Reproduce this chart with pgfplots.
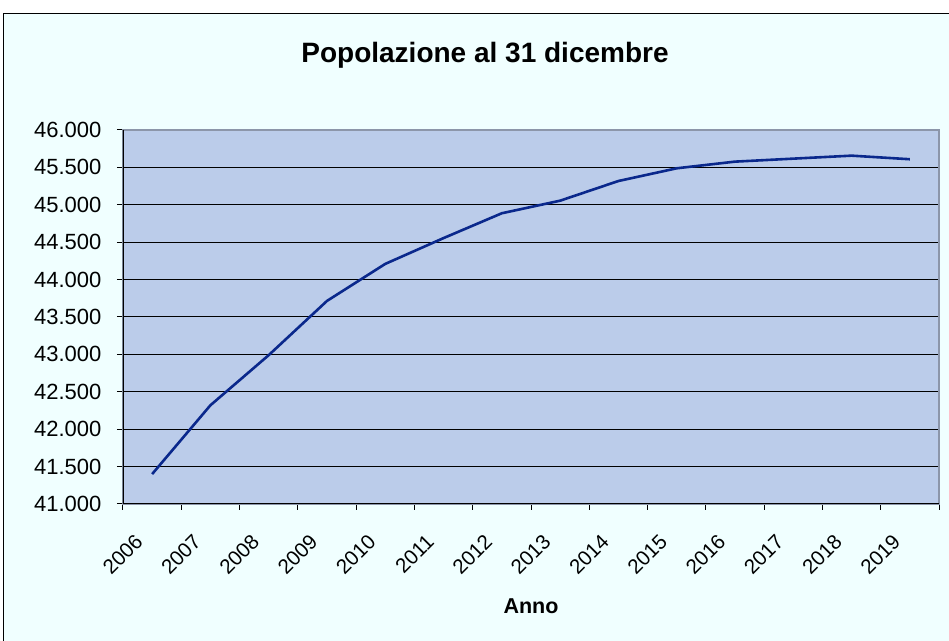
\documentclass[border=0pt]{standalone}
\usepackage{fontspec}
\setmainfont{Liberation Sans}
\usepackage{pgfplots}
\pgfplotsset{compat=1.18}

\definecolor{sfondo}{RGB}{240,255,255}
\definecolor{areaplot}{RGB}{187,204,234}
\definecolor{linea}{RGB}{10,40,140}
\definecolor{bordo}{RGB}{140,150,170}

\begin{document}
\begin{tikzpicture}
% 1 px of the reference = 0.5pt, origin at the lower left corner of the plot area
\useasboundingbox (-61.5pt,-68.5pt) rectangle (413pt,252pt);
\fill[white] (-61.5pt,-68.5pt) rectangle (413pt,252pt);
\fill[sfondo] (-59.5pt,-68.5pt) rectangle (413pt,245pt);
\draw[black, line width=0.5pt] (-59.5pt,-68.5pt) -- (-59.5pt,245pt) -- (413pt,245pt);
\node[anchor=base, font=\bfseries\fontsize{14}{16}\selectfont] at (181pt,220.85pt) {Popolazione al 31 dicembre};
\begin{axis}[
  scale only axis,
  width=408pt, height=187pt,
  xmin=0, xmax=14,
  ymin=41000, ymax=46000,
  axis background/.style={fill=areaplot},
  axis line style={draw=bordo, line width=1pt},
  xtick={0.5,1.5,...,13.5},
  xticklabels={2006,2007,2008,2009,2010,2011,2012,2013,2014,2015,2016,2017,2018,2019},
  minor xtick={0,...,14},
  ytick={41000,41500,...,46000},
  minor ytick={41000,41500,...,46000},
  xtick pos=bottom, ytick pos=left,
  tick align=outside,
  major tick length=0pt,
  minor tick length=3pt,
  tick style={black, line width=0.5pt},
  ymajorgrids,
  grid style={black, line width=0.5pt},
  scaled y ticks=false,
  /pgf/number format/1000 sep={.},
  /pgf/number format/assume math mode=true,
  yticklabel style={anchor=east, inner sep=0pt, xshift=-10.6pt, font=\fontsize{11}{13}\selectfont},
  xticklabel style={xshift=-6.5pt, yshift=-17pt, rotate=45, anchor=east, inner sep=0pt, font=\fontsize{10.3}{12}\selectfont},
  xlabel={Anno},
  xlabel style={at={(axis description cs:0.5,0)}, anchor=base, yshift=-55pt, font=\bfseries\fontsize{10.75}{12}\selectfont},
]
\addplot[linea, line width=1.3pt, mark=none] coordinates {
  (0.5,41400) (1.5,42320) (2.5,42990) (3.5,43715) (4.5,44210)
  (5.5,44555) (6.5,44887) (7.5,45055) (8.5,45318) (9.5,45488)
  (10.5,45577) (11.5,45617) (12.5,45657) (13.5,45609)
};
\draw[black, line width=0.75pt] (rel axis cs:0,1) -- (rel axis cs:0,0) -- (rel axis cs:1,0);
\end{axis}
\end{tikzpicture}
\end{document}
